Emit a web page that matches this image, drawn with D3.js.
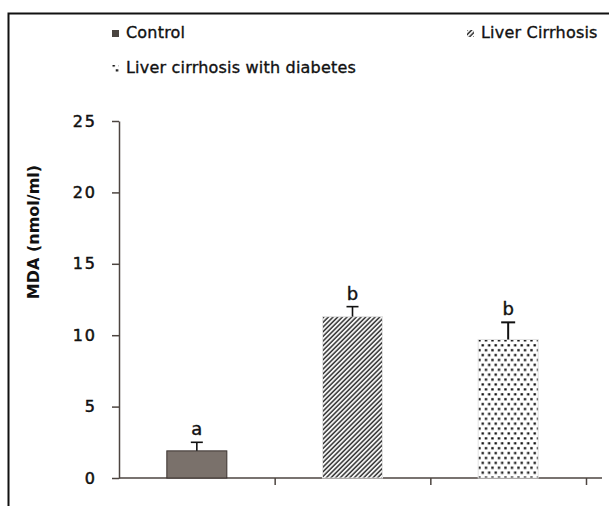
<!DOCTYPE html>
<html>
<head>
<meta charset="utf-8">
<script src="https://cdn.jsdelivr.net/npm/d3@7"></script>
<style>
  body { margin: 0; background: #fff; }
  text { font-family: "DejaVu Sans", Verdana, sans-serif; }
</style>
</head>
<body>
<div id="chart"></div>
<script>
(function(){

// data
var groups = ["Control", "Liver Cirrhosis", "Liver cirrhosis with diabetes"];
var means = [1.9, 11.3, 9.7];
var errors = [0.6, 0.7, 1.2];
var letters = ["a", "b", "b"];
var yTicks = [0, 5, 10, 15, 20, 25];

var width = 609,
	height = 506;

var svg = d3.select("#chart")
	.append("svg")
	.attr("width", width)
	.attr("height", height)

var defs = svg.append("defs")

// diagonal hatch
var hatch = defs.append("pattern")
	.attr("id", "hatch")
	.attr("patternUnits", "userSpaceOnUse")
	.attr("width", 3.3)
	.attr("height", 3.3)
	.attr("patternTransform", "rotate(45)")
hatch.append("rect").attr("width", 3.3).attr("height", 3.3).attr("fill", "#fff")
hatch.append("line")
	.attr("x1", 1).attr("y1", 0).attr("x2", 1).attr("y2", 3.3)
	.attr("stroke", "#2a2a2a")
	.attr("stroke-width", 1.5)

// dots
var dots = defs.append("pattern")
	.attr("id", "dots")
	.attr("patternUnits", "userSpaceOnUse")
	.attr("width", 6.5)
	.attr("height", 9.8)
dots.append("rect").attr("width", 6.5).attr("height", 9.8).attr("fill", "#fff")
dots.append("rect").attr("x", 0.5).attr("y", 1.2).attr("width", 2.4).attr("height", 2.2).attr("fill", "#111")
dots.append("rect").attr("x", 3.8).attr("y", 6.1).attr("width", 2.4).attr("height", 2.2).attr("fill", "#111")

var fills = ["#7a716b", "url(#hatch)", "url(#dots)"];
var strokes = ["#3a322e", "#e2e2e2", "#e2e2e2"];

// frame
svg.append("rect")
	.attr("x", 8.5)
	.attr("y", 13.5)
	.attr("width", 700)
	.attr("height", 600)
	.attr("fill", "none")
	.attr("stroke", "#111")
	.attr("stroke-width", 2)

// scales
var x = d3.scaleBand()
	.domain(groups)
	.range([119, 586])
	.padding(0)

var xEdge = d3.scaleLinear()
	.domain([0, 3])
	.range([119, 586])

var y = d3.scaleLinear()
	.domain([0, 25])
	.range([478, 121])

var barW = 60;
var axisColor = "#4d4540";

// y axis
var yAxis = svg.append("g")
	.attr("transform", "translate(119,0)")
	.call(d3.axisLeft(y).tickValues(yTicks).tickSize(7).tickPadding(15).tickSizeOuter(0))
yAxis.select(".domain").attr("stroke", axisColor).attr("stroke-width", 1.5)
yAxis.selectAll(".tick line").attr("stroke", axisColor).attr("stroke-width", 1.5)
yAxis.selectAll(".tick text")
	.attr("fill", "#111")
	.attr("stroke", "#111")
	.attr("stroke-width", 0.5)
	.style("font-size", "16px")
	.style("letter-spacing", "2px")
	.style("font-family", "DejaVu Sans")

// x axis (ticks on category boundaries)
var xAxis = svg.append("g")
	.attr("transform", "translate(0," + y(0) + ")")
	.call(d3.axisBottom(xEdge).tickValues([1, 2, 3]).tickFormat("").tickSize(7).tickSizeOuter(0))
xAxis.select(".domain").remove()
xAxis.append("line")
	.attr("x1", 119).attr("x2", 602)
	.attr("stroke", axisColor)
	.attr("stroke-width", 1.5)
xAxis.selectAll(".tick line").attr("stroke", axisColor).attr("stroke-width", 1.5)

// bars
svg.selectAll(".bar")
	.data(groups)
	.enter()
	.append("rect")
	.attr("class", "bar")
	.attr("x", function(d){ return x(d) + x.bandwidth()/2 - barW/2 })
	.attr("width", barW)
	.attr("y", function(d, i){ return y(means[i]) })
	.attr("height", function(d, i){ return y(0) - y(means[i]) })
	.attr("fill", function(d, i){ return fills[i] })
	.attr("stroke", function(d, i){ return strokes[i] })
	.attr("stroke-width", 1)

// error bars
var err = svg.selectAll(".err")
	.data(groups)
	.enter()
	.append("g")
	.attr("class", "err")
	.attr("stroke", "#111")
	.attr("stroke-width", function(d, i){ return i == 2 ? 2 : 1.6 })
err.append("line")
	.attr("x1", function(d){ return x(d) + x.bandwidth()/2 })
	.attr("x2", function(d){ return x(d) + x.bandwidth()/2 })
	.attr("y1", function(d, i){ return y(means[i]) })
	.attr("y2", function(d, i){ return y(means[i] + errors[i]) })
err.append("line")
	.attr("x1", function(d, i){ return x(d) + x.bandwidth()/2 - (i == 2 ? 7 : 6) })
	.attr("x2", function(d, i){ return x(d) + x.bandwidth()/2 + (i == 2 ? 7 : 6) })
	.attr("y1", function(d, i){ return y(means[i] + errors[i]) })
	.attr("y2", function(d, i){ return y(means[i] + errors[i]) })

// significance letters
svg.selectAll(".letter")
	.data(groups)
	.enter()
	.append("text")
	.attr("class", "letter")
	.attr("x", function(d){ return x(d) + x.bandwidth()/2 })
	.attr("y", function(d, i){ return y(means[i] + errors[i]) - 7 })
	.attr("text-anchor", "middle")
	.style("font-size", "18px")
	.attr("fill", "#111")
	.attr("stroke", "#111")
	.attr("stroke-width", 0.4)
	.text(function(d, i){ return letters[i] })

// y title
svg.append("text")
	.attr("transform", "translate(39,232) rotate(-90)")
	.attr("text-anchor", "middle")
	.style("font-size", "16px")
	.style("font-weight", "bold")
	.attr("fill", "#111")
	.text("MDA (nmol/ml)")

// legend
var legendPos = [[112, 38], [467, 38], [112, 73]];
var legend = svg.selectAll(".legend")
	.data(groups)
	.enter()
	.append("g")
	.attr("class", "legend")
	.attr("transform", function(d, i){ return "translate(" + legendPos[i][0] + "," + legendPos[i][1] + ")" })
legend.append("rect")
	.attr("x", 0)
	.attr("y", -8)
	.attr("width", 7)
	.attr("height", 7)
	.attr("fill", function(d, i){ return i == 0 ? "#4a4440" : fills[i] })
legend.append("text")
	.attr("x", 14)
	.attr("y", 0)
	.style("font-size", "16px")
	.style("letter-spacing", "0.2px")
	.attr("fill", "#111")
	.attr("stroke", "#111")
	.attr("stroke-width", 0.35)
	.text(function(d){ return d })

})();
</script>
</body>
</html>
